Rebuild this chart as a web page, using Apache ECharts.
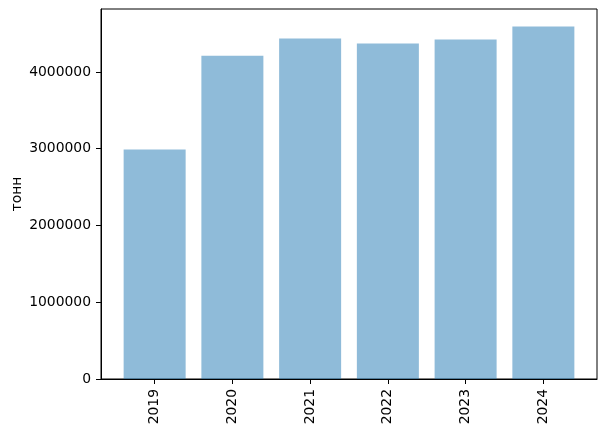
<!DOCTYPE html>
<html>
<head>
<meta charset="utf-8">
<script src="https://cdn.jsdelivr.net/npm/echarts@6/dist/echarts.min.js"></script>
<style>
  html, body { margin: 0; padding: 0; background: #fff; }
  #chart { width: 607px; height: 434px; }
</style>
</head>
<body>
<div id="chart"></div>
<script>
// data
const years = ['2019', '2020', '2021', '2022', '2023', '2024']
const tonnes = [2988000, 4212000, 4434000, 4369000, 4421000, 4590000]
const yTicks = [0, 1000000, 2000000, 3000000, 4000000]

const font = 'DejaVu Sans'
const dom = echarts.init(document.getElementById('chart'))

// matplotlib style margins: bars span -0.4..n-0.6, plus 5% each side
const span = years.length - 1 + 0.8
const xMin = -0.4 - span * 0.05
const xMax = years.length - 1 + 0.4 + span * 0.05
const yMax = Math.max(...tonnes) * 1.05

const option = {
  animation: false,
  grid: {
    left: 101,
    right: 10,
    top: 9,
    bottom: 55,
    outerBoundsMode: 'none',
    containLabel: false,
    show: true,
    borderColor: '#000',
    borderWidth: 1,
    backgroundColor: 'transparent'
  },
  xAxis: {
    type: 'value',
    min: xMin,
    max: xMax,
    splitLine: { show: false },
    axisLine: { show: true, onZero: false, lineStyle: { color: '#000', width: 1 } },
    axisTick: {
      show: true,
      length: 5,
      lineStyle: { color: '#000' },
      customValues: years.map((y, i) => i)
    },
    axisLabel: {
      rotate: 90,
      margin: 10,
      color: '#000',
      fontFamily: font,
      fontSize: 13.9,
      customValues: years.map((y, i) => i),
      formatter: v => years[Math.round(v)]
    }
  },
  yAxis: {
    type: 'value',
    min: 0,
    max: yMax,
    name: 'тонн',
    nameLocation: 'middle',
    nameGap: 77,
    nameMoveOverlap: false,
    nameTextStyle: { color: '#000', fontFamily: font, fontSize: 13.9 },
    splitLine: { show: false },
    axisLine: { show: true, onZero: false, lineStyle: { color: '#000', width: 1 } },
    axisTick: {
      show: true,
      length: 5,
      lineStyle: { color: '#000' },
      customValues: yTicks
    },
    axisLabel: {
      margin: 10,
      color: '#000',
      fontFamily: font,
      fontSize: 13.9,
      customValues: yTicks,
      formatter: v => String(v)
    }
  },
  series: [{
    type: 'bar',
    barWidth: 62,
    itemStyle: { color: 'rgba(31,119,180,0.5)' },
    data: tonnes.map((v, i) => [i, v])
  }]
}

dom.setOption(option)
</script>
</body>
</html>
